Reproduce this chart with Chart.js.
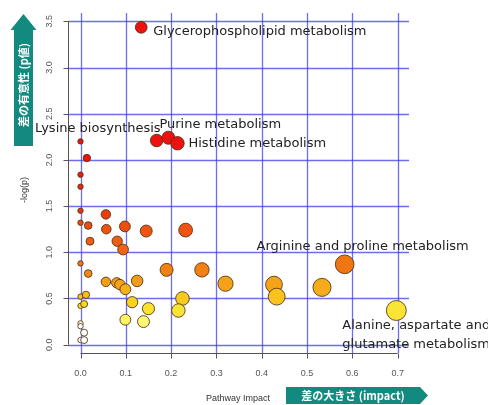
<!DOCTYPE html>
<html>
<head>
<meta charset="utf-8">
<script src="https://cdn.jsdelivr.net/npm/chart.js@4/dist/chart.umd.min.js"></script>
<style>
  html, body { margin:0; padding:0; background:#fff; }
  #wrap { width:488px; height:405px; position:relative; }
</style>
</head>
<body>
<div id="wrap"><canvas id="c"></canvas></div>
<script>
// Pathway impact (x) y -log(p) (y)
const IMPACT = [0.134, 0.168, 0.194, 0.214, 0.000, 0.014, 0.000, 0.000, 0.000, 0.000,
                0.017, 0.056, 0.057, 0.098, 0.145, 0.232, 0.021, 0.081, 0.094, 0.000,
                0.017, 0.056, 0.080, 0.087, 0.099, 0.125, 0.190, 0.268, 0.320, 0.427,
                0.433, 0.533, 0.583, 0.697, 0.000, 0.012, 0.000, 0.008, 0.114, 0.150,
                0.225, 0.216, 0.099, 0.139, 0.000, 0.000, 0.008, 0.000, 0.008];
const LOGP   = [3.435, 2.21, 2.24, 2.18, 2.20, 2.02, 1.84, 1.71, 1.45, 1.32,
                1.29, 1.41, 1.25, 1.28, 1.23, 1.24, 1.12, 1.12, 1.03, 0.88,
                0.77, 0.68, 0.67, 0.65, 0.60, 0.69, 0.81, 0.81, 0.66, 0.65,
                0.52, 0.62, 0.87, 0.37, 0.52, 0.54, 0.42, 0.44, 0.46, 0.39,
                0.50, 0.37, 0.27, 0.25, 0.23, 0.20, 0.13, 0.05, 0.05];
const X_TICKS = [0, 0.1, 0.2, 0.3, 0.4, 0.5, 0.6, 0.7];
const Y_TICKS = [0, 0.5, 1.0, 1.5, 2.0, 2.5, 3.0, 3.5];
const NOMBRES = ['Glycerophospholipid metabolism', 'Lysine biosynthesis', 'Purine metabolism',
                 'Histidine metabolism', 'Arginine and proline metabolism',
                 'Alanine, aspartate and\nglutamate metabolism'];
const NOMBRES_IDX = [0, 1, 2, 3, 32, 33];

// ── Colores tipo heat según -log(p) ───────────────────────────────────────────
const STOPS = [[2.0,[238,17,17]],[1.45,[228,56,14]],[1.25,[240,82,16]],[1.0,[240,102,20]],
               [0.85,[240,120,20]],[0.65,[245,164,26]],[0.52,[248,196,28]],[0.4,[250,224,42]],
               [0.3,[253,240,76]],[0.24,[255,248,122]],[0.22,[255,255,255]]];
function colorPara(v) {
    if (v >= STOPS[0][0]) return 'rgb(' + STOPS[0][1] + ')';
    for (let i = 1; i < STOPS.length; i++) {
        if (v >= STOPS[i][0]) {
            const [a, ca] = STOPS[i-1], [b, cb] = STOPS[i];
            const t = (v - b) / (a - b);
            return 'rgb(' + cb.map((c, k) => Math.round(c + (ca[k] - c) * t)).join(',') + ')';
        }
    }
    return '#ffffff';
}

// Posición de cada etiqueta respecto a su punto
const ETQ_POS = [
    { dx: 12, dy: 4, align: 'left' },
    { dx: 4, dy: -12, align: 'right' },
    { dx: -9, dy: -13, align: 'left' },
    { dx: 11, dy: 0, align: 'left' },
    { dx: 18, dy: -18, align: 'center' },
    { dx: -54, dy: 15, align: 'left' }
];

const teal = '#138a7f';
const azul = 'rgba(60,60,232,0.75)';

const plotPlugin = {
    id: 'rPlot',
    beforeDatasetsDraw(chart) {
        const { ctx, chartArea: a, scales: { x, y } } = chart;
        ctx.save();
        ctx.strokeStyle = azul;
        ctx.lineWidth = 1.3;
        X_TICKS.forEach(v => {
            const px = Math.round(x.getPixelForValue(v)) + 0.5;
            ctx.beginPath(); ctx.moveTo(px, a.top); ctx.lineTo(px, a.bottom); ctx.stroke();
        });
        Y_TICKS.forEach(v => {
            const py = Math.round(y.getPixelForValue(v)) + 0.5;
            ctx.beginPath(); ctx.moveTo(a.left, py); ctx.lineTo(a.right, py); ctx.stroke();
        });
        ctx.restore();
    },
    afterDatasetsDraw(chart) {
        const { ctx, chartArea: a, scales: { x, y } } = chart;
        ctx.save();
        // ejes estilo R
        ctx.strokeStyle = '#555';
        ctx.lineWidth = 1;
        const ax = Math.round(a.left) + 0.5, ay = Math.round(a.bottom) + 0.5;
        ctx.beginPath();
        ctx.moveTo(ax, y.getPixelForValue(Y_TICKS[0])); ctx.lineTo(ax, y.getPixelForValue(Y_TICKS[Y_TICKS.length-1]));
        ctx.moveTo(x.getPixelForValue(X_TICKS[0]), ay); ctx.lineTo(x.getPixelForValue(X_TICKS[X_TICKS.length-1]), ay);
        Y_TICKS.forEach(v => { const py = Math.round(y.getPixelForValue(v)) + 0.5; ctx.moveTo(ax, py); ctx.lineTo(ax - 5, py); });
        X_TICKS.forEach(v => { const px = Math.round(x.getPixelForValue(v)) + 0.5; ctx.moveTo(px, ay); ctx.lineTo(px, ay + 5); });
        ctx.stroke();

        ctx.fillStyle = '#555';
        ctx.font = '9px "Liberation Sans", Arial, sans-serif';
        ctx.textAlign = 'center'; ctx.textBaseline = 'middle';
        X_TICKS.forEach(v => ctx.fillText(v.toFixed(1), x.getPixelForValue(v), 374));
        Y_TICKS.forEach(v => {
            ctx.save(); ctx.translate(50, y.getPixelForValue(v)); ctx.rotate(-Math.PI / 2);
            ctx.fillText(v.toFixed(1), 0, 0); ctx.restore();
        });
        ctx.fillStyle = '#333';
        ctx.fillText('Pathway Impact', 238, 399);
        ctx.save(); ctx.translate(25, 190); ctx.rotate(-Math.PI / 2);
        ctx.fillText('-log(p)', 0, 0); ctx.restore();

        // etiquetas de rutas
        ctx.fillStyle = '#222';
        ctx.font = '13px "DejaVu Sans", sans-serif';
        NOMBRES.forEach((n, i) => {
            const k = NOMBRES_IDX[i], p = ETQ_POS[i];
            const px = x.getPixelForValue(IMPACT[k]), py = y.getPixelForValue(LOGP[k]);
            ctx.textAlign = p.align;
            n.split('\n').forEach((l, j) => ctx.fillText(l, px + p.dx, py + p.dy + j * 19));
        });

        // flecha vertical
        ctx.fillStyle = teal;
        ctx.beginPath();
        ctx.moveTo(14, 146); ctx.lineTo(14, 30); ctx.lineTo(10.5, 30); ctx.lineTo(23.5, 14);
        ctx.lineTo(36.5, 30); ctx.lineTo(33, 30); ctx.lineTo(33, 146); ctx.closePath(); ctx.fill();
        // flecha horizontal
        ctx.beginPath();
        ctx.moveTo(286, 387); ctx.lineTo(420, 387); ctx.lineTo(428, 395.5);
        ctx.lineTo(420, 404); ctx.lineTo(286, 404); ctx.closePath(); ctx.fill();

        ctx.fillStyle = '#fff';
        ctx.font = 'bold 11px "Noto Sans CJK JP", sans-serif';
        ctx.textAlign = 'center'; ctx.textBaseline = 'middle';
        ctx.fillText('差の大きさ (impact)', 353, 396);
        ctx.save(); ctx.translate(24, 85); ctx.rotate(-Math.PI / 2);
        ctx.fillText('差の有意性 (p値)', 0, 0); ctx.restore();
        ctx.restore();
    }
};

new Chart(document.getElementById('c'), {
    type: 'scatter',
    data: {
        datasets: [{
            data: IMPACT.map((v, i) => ({ x: v, y: LOGP[i] })),
            pointRadius: c => 2.7 + 8.7 * Math.sqrt(IMPACT[c.dataIndex]),
            pointBackgroundColor: c => colorPara(LOGP[c.dataIndex]),
            pointBorderColor: 'rgba(80,50,20,0.85)',
            pointBorderWidth: 1,
            clip: false
        }]
    },
    options: {
        responsive: true, maintainAspectRatio: false, animation: false,
        layout: { padding: { left: 68, right: 79, top: 13, bottom: 52 } },
        plugins: { legend: { display: false }, tooltip: { enabled: false } },
        scales: {
            x: { type: 'linear', display: false, min: -0.0276, max: 0.725 },
            y: { type: 'linear', display: false, min: -0.09, max: 3.59 }
        }
    },
    plugins: [plotPlugin]
});
</script>
</body>
</html>
